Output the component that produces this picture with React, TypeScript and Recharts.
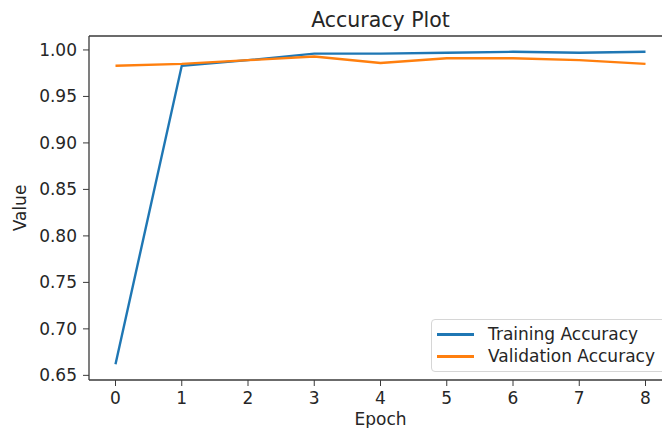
import React from "react";
import { LineChart, Line, XAxis, YAxis, ReferenceLine, Label } from "recharts";

const epochs = [0, 1, 2, 3, 4, 5, 6, 7, 8];
const trainingAccuracy = [0.662, 0.983, 0.989, 0.996, 0.996, 0.997, 0.998, 0.997, 0.998];
const validationAccuracy = [0.983, 0.985, 0.989, 0.993, 0.986, 0.991, 0.991, 0.989, 0.985];
const yTicks = [0.65, 0.7, 0.75, 0.8, 0.85, 0.9, 0.95, 1.0];
const xTicks = [0, 1, 2, 3, 4, 5, 6, 7, 8];
const seriesNames = ["Training Accuracy", "Validation Accuracy"];

const data = epochs.map((e, i) => ({
  epoch: e,
  train: trainingAccuracy[i],
  val: validationAccuracy[i],
}));

const FONT = "'DejaVu Sans', sans-serif";
const BLUE = "#1f77b4";
const ORANGE = "#ff7f0e";
const AXIS = "#3a3a3a";
const TEXT = "#262626";

const LegendBox = () => (
  <div
    style={{
      position: "absolute",
      left: 431,
      top: 319,
      width: 240,
      height: 53,
      boxSizing: "border-box",
      border: "1px solid #d6d6d6",
      borderRadius: 4,
      background: "rgba(255,255,255,0.8)",
      fontFamily: FONT,
      fontSize: 17,
      color: TEXT,
    }}
  >
    {[
      { name: seriesNames[0], color: BLUE, y: 14 },
      { name: seriesNames[1], color: ORANGE, y: 36 },
    ].map((it) => (
      <div key={it.name}>
        <div
          style={{
            position: "absolute",
            left: 5,
            top: it.y - 1,
            width: 37,
            height: 2.5,
            background: it.color,
          }}
        />
        <div
          style={{
            position: "absolute",
            left: 56,
            top: it.y - 11,
            lineHeight: "22px",
            whiteSpace: "nowrap",
          }}
        >
          {it.name}
        </div>
      </div>
    ))}
  </div>
);

export default function App() {
  return (
    <div
      style={{
        position: "absolute",
        left: 0,
        top: 0,
        width: 662,
        height: 428,
        overflow: "hidden",
        background: "#fff",
      }}
    >
      <div
        style={{
          position: "absolute",
          left: 0,
          width: 761,
          top: 9,
          textAlign: "center",
          fontFamily: FONT,
          fontSize: 20.5,
          lineHeight: "22px",
          color: TEXT,
          whiteSpace: "nowrap",
        }}
      >
        Accuracy Plot
      </div>
      <LineChart
        width={680}
        height={428}
        data={data}
        margin={{ top: 36, right: 8, bottom: 0, left: 0 }}
        style={{ position: "absolute", left: 0, top: 0 }}
      >
        <XAxis
          dataKey="epoch"
          type="number"
          domain={[-0.4, 8.4]}
          ticks={xTicks}
          allowDataOverflow
          height={48}
          tickSize={6}
          tickMargin={6}
          stroke={AXIS}
          tick={{ fill: TEXT, fontSize: 17, fontFamily: FONT }}
          tickLine={{ stroke: AXIS }}
          axisLine={{ stroke: AXIS, strokeWidth: 1.3 }}
        >
          <Label
            content={() => (
              <text
                x={380.5}
                y={425}
                textAnchor="middle"
                fill={TEXT}
                fontSize={17}
                fontFamily={FONT}
              >
                Epoch
              </text>
            )}
          />
        </XAxis>
        <YAxis
          type="number"
          domain={[0.645, 1.015]}
          ticks={yTicks}
          allowDataOverflow
          width={89}
          tickSize={6}
          tickMargin={6}
          tickFormatter={(v: number) => v.toFixed(2)}
          stroke={AXIS}
          tick={{ fill: TEXT, fontSize: 17, fontFamily: FONT }}
          tickLine={{ stroke: AXIS }}
          axisLine={{ stroke: AXIS, strokeWidth: 1.3 }}
        >
          <Label
            content={() => (
              <text
                x={26}
                y={208}
                transform="rotate(-90 26 208)"
                textAnchor="middle"
                fill={TEXT}
                fontSize={17}
                fontFamily={FONT}
              >
                Value
              </text>
            )}
          />
        </YAxis>
        <ReferenceLine y={1.015} stroke={AXIS} strokeWidth={1.3} />
        <ReferenceLine x={8.4} stroke={AXIS} strokeWidth={1.3} />
        <Line
          type="linear"
          dataKey="train"
          name={seriesNames[0]}
          stroke={BLUE}
          strokeWidth={2.4}
          dot={false}
          isAnimationActive={false}
        />
        <Line
          type="linear"
          dataKey="val"
          name={seriesNames[1]}
          stroke={ORANGE}
          strokeWidth={2.4}
          dot={false}
          isAnimationActive={false}
        />
      </LineChart>
      <LegendBox />
    </div>
  );
}
